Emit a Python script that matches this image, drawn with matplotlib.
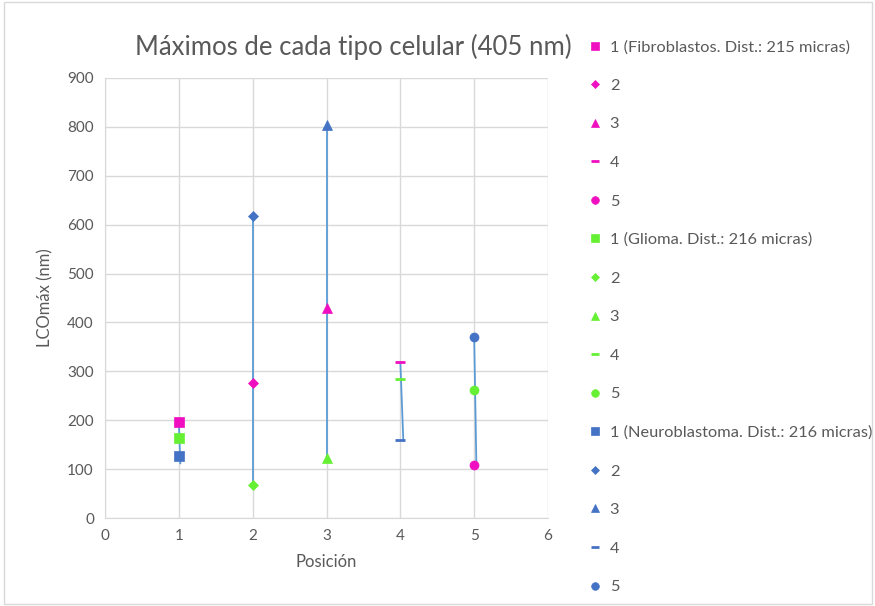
import matplotlib.pyplot as plt
from matplotlib.patches import Rectangle

# ------------------------------------------------------------------------------------- #
# Data
# ------------------------------------------------------------------------------------- #
posiciones = [1, 2, 3, 4, 5]
fibroblastos = [196, 276, 430, 319, 108]
glioma = [164, 67, 123, 284, 262]
neuroblastoma = [127, 618, 804, 160, 370]

# connecting line for each position (top, bottom)
linea_x_top = [1.0, 2.0, 3.0, 4.0, 5.0]
linea_x_bot = [1.02, 2.0, 3.0, 4.04, 5.03]
linea_top = [196, 618, 804, 319, 370]
linea_bot = [112, 67, 115, 160, 108]

grupos = ["Fibroblastos. Dist.: 215 micras",
          "Glioma. Dist.: 216 micras",
          "Neuroblastoma. Dist.: 216 micras"]

# ------------------------------------------------------------------------------------- #

plt.rcParams['font.family'] = ['Lato', 'DejaVu Sans']
gris = '#595959'
colores = ['#F00FC0', '#66F033', '#4472C4']
marcadores = ['s', 'D', '^', '_', 'o']
tamanos = [6.5, 5, 7, 7.5, 6.5]

fig = plt.figure(figsize=(8.75, 6.06), dpi=100)
ax = fig.add_axes([0.12, 0.1452, 0.5063, 0.7261])
fig.patches.append(Rectangle((0.004, 0.004), 0.992, 0.992, transform=fig.transFigure,
                             fill=False, edgecolor='#D9D9D9', linewidth=1))

# lines first, markers draw over them
for i in range(len(posiciones)):
    ax.plot([linea_x_top[i], linea_x_bot[i]], [linea_top[i], linea_bot[i]],
            color='#5B9BD5', linewidth=1.3, zorder=2)

handles = []
for serie, datos in enumerate([fibroblastos, glioma, neuroblastoma]):
    for i, (x, y) in enumerate(zip(posiciones, datos)):
        etiqueta = str(i + 1)
        if i == 0:
            etiqueta = "1 (" + grupos[serie] + ")"
        h, = ax.plot([x], [y], linestyle='none', marker=marcadores[i],
                     markersize=tamanos[i], color=colores[serie],
                     markeredgewidth=2 if marcadores[i] == '_' else 0.5,
                     label=etiqueta, zorder=3)
        handles.append(h)

ax.set_xlim(0, 6)
ax.set_ylim(0, 900)
ax.set_xticks(range(0, 7))
ax.set_yticks(range(0, 901, 100))
ax.grid(color='#D9D9D9', linewidth=1)
ax.set_axisbelow(True)
for s in ['top', 'right']:
    ax.spines[s].set_visible(False)
for s in ['left', 'bottom']:
    ax.spines[s].set_color('#D9D9D9')
ax.tick_params(colors=gris, labelsize=11, length=0, pad=8)

ax.set_xlabel('Posición', color=gris, fontsize=12, labelpad=8)
ax.set_ylabel('LCOmáx (nm)', color=gris, fontsize=12, labelpad=10)
fig.text(0.404, 0.922, 'Máximos de cada tipo celular (405 nm)', color=gris,
         fontsize=18.5, ha='center', va='center')

leg = fig.legend(handles=handles, loc='upper left', bbox_to_anchor=(0.665, 0.945),
                 frameon=False, fontsize=11.8, labelcolor=gris, labelspacing=1.47,
                 handlelength=0.8, handletextpad=0.5, borderaxespad=0,
                 markerscale=0.85)

plt.savefig('out.png', dpi=100)
